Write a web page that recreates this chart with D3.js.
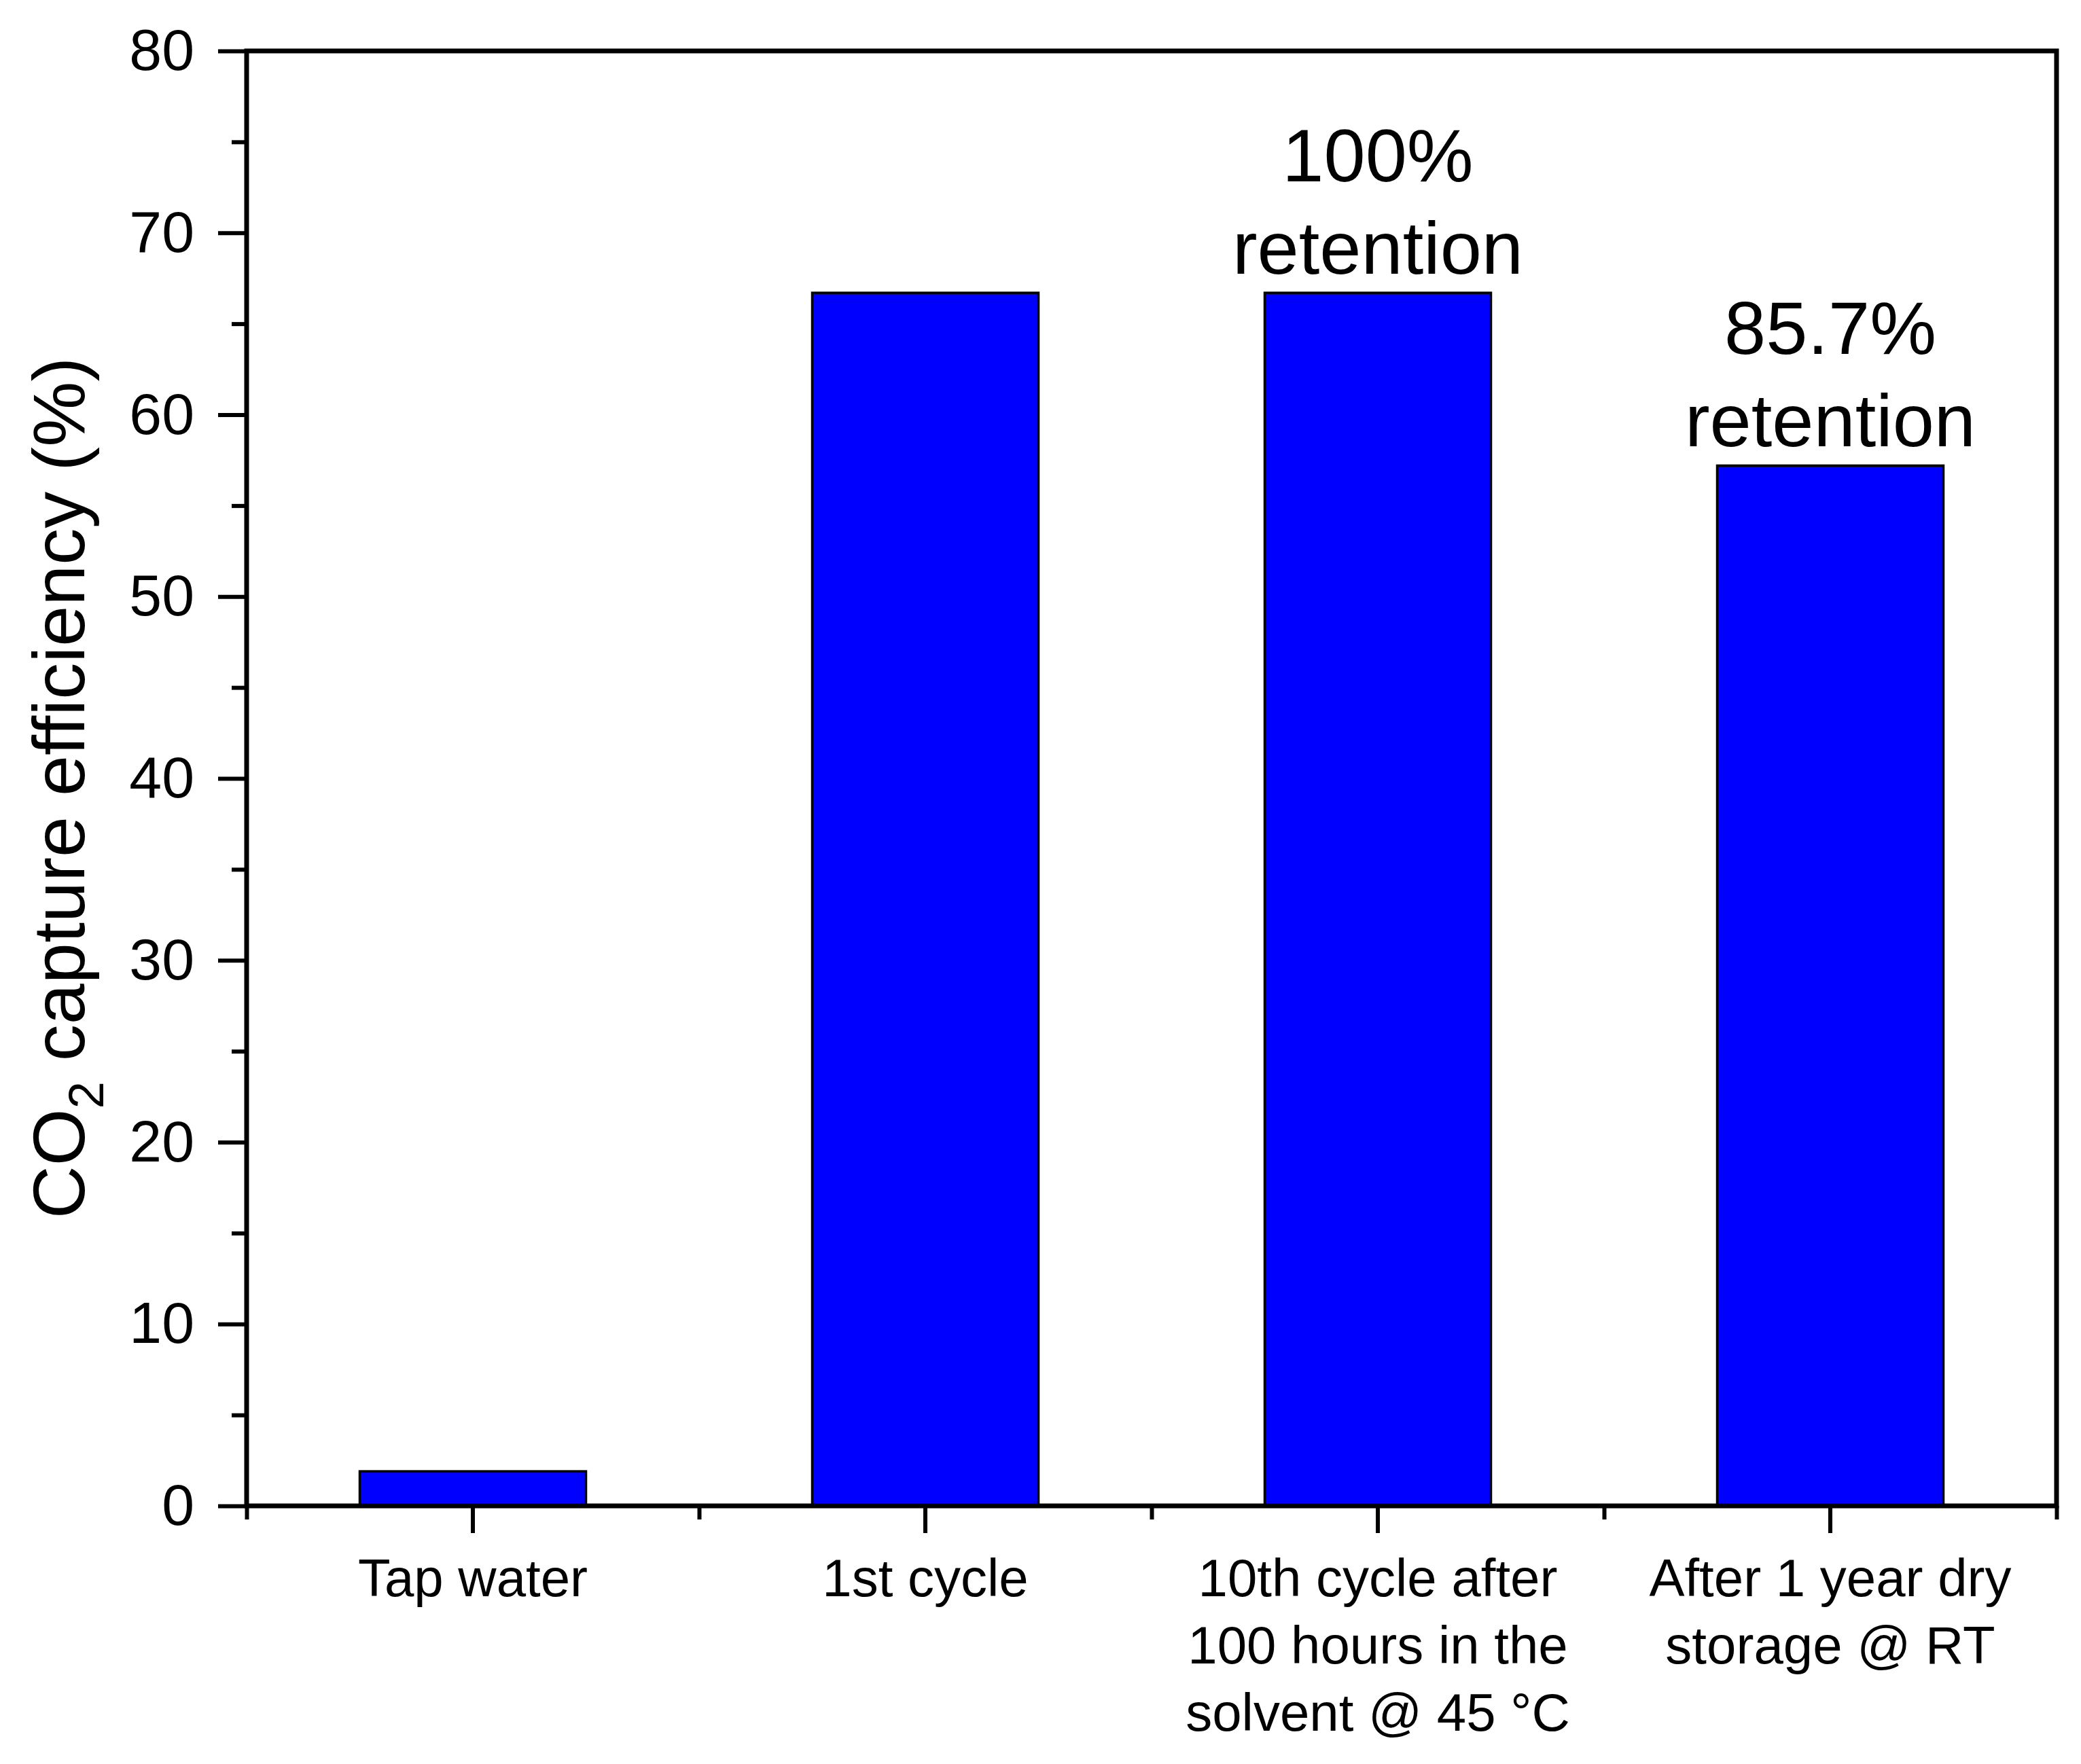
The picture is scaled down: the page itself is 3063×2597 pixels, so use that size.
<!DOCTYPE html>
<html>
<head>
<meta charset="utf-8">
<script src="https://cdn.jsdelivr.net/npm/d3@7"></script>
<style>
  body { margin: 0; background: #fff; }
  text { font-family: "Liberation Sans", Arial, sans-serif; fill: #000; }
</style>
</head>
<body>
<svg id="chart"></svg>
<script>
// data
var categories = [
  ["Tap water"],
  ["1st cycle"],
  ["10th cycle after", "100 hours in the", "solvent @ 45 °C"],
  ["After 1 year dry", "storage @ RT"]
]
var values = [1.9, 66.7, 66.7, 57.2]
var notes = [[], [], ["100%", "retention"], ["85.7%", "retention"]]
var yTicks = [0, 10, 20, 30, 40, 50, 60, 70, 80]
var yMinor = [5, 15, 25, 35, 45, 55, 65, 75]

var W = 3063, H = 2597
var plotLeft = 363, plotRight = 3027, plotTop = 75, plotBottom = 2217
var axisW = 7

var svg = d3.select('#chart')
  .attr('width', W)
  .attr('height', H)

svg.append('rect').attr('width', W).attr('height', H).attr('fill', '#fff')

var x = d3.scaleBand()
  .domain(d3.range(categories.length))
  .range([plotLeft, plotRight])
  .paddingInner(0.5)
  .paddingOuter(0.25)

var y = d3.scaleLinear().domain([0, 80]).range([plotBottom, plotTop])

// bars
svg.selectAll('.bar').data(values).enter()
  .append('rect')
  .attr('class', 'bar')
  .attr('x', function(d, i) { return x(i) })
  .attr('y', function(d) { return y(d) })
  .attr('width', x.bandwidth())
  .attr('height', function(d) { return y(0) - y(d) })
  .attr('fill', '#0000ff')
  .attr('stroke', '#000')
  .attr('stroke-width', 3.5)

// retention notes above bars
notes.forEach(function(lines, i) {
  lines.forEach(function(t, j) {
    svg.append('text')
      .attr('x', x(i) + x.bandwidth() / 2)
      .attr('y', y(values[i]) - 28 - (lines.length - 1 - j) * 136)
      .attr('text-anchor', 'middle')
      .attr('font-size', 110)
      .text(t)
  })
})

// y axis: major + minor ticks
var gy = svg.append('g').attr('transform', `translate(${plotLeft},0)`)
  .call(d3.axisLeft(y).tickValues(yTicks).tickSize(42).tickPadding(35).tickFormat(d3.format('d')))
gy.select('.domain').remove()
gy.selectAll('.tick line').attr('stroke', '#000').attr('stroke-width', 6)
gy.selectAll('.tick text').attr('font-size', 86).attr('font-family', '"Liberation Sans", Arial, sans-serif')

var gyMinor = svg.append('g').attr('transform', `translate(${plotLeft},0)`)
  .call(d3.axisLeft(y).tickValues(yMinor).tickSize(22).tickFormat(''))
gyMinor.select('.domain').remove()
gyMinor.selectAll('.tick line').attr('stroke', '#000').attr('stroke-width', 6)

// x axis: major ticks at categories, minor at band edges
var xMajor = svg.append('g').attr('transform', `translate(0,${plotBottom})`)
  .call(d3.axisBottom(x).tickSize(40).tickFormat(''))
xMajor.select('.domain').remove()
xMajor.selectAll('.tick line').attr('stroke', '#000').attr('stroke-width', 6)

var xEdge = d3.scaleLinear().domain([0, categories.length]).range([plotLeft, plotRight])
var xMinor = svg.append('g').attr('transform', `translate(0,${plotBottom})`)
  .call(d3.axisBottom(xEdge).tickValues(d3.range(categories.length + 1)).tickSize(20).tickFormat(''))
xMinor.select('.domain').remove()
xMinor.selectAll('.tick line').attr('stroke', '#000').attr('stroke-width', 6)

// category labels, multi-line
categories.forEach(function(lines, i) {
  lines.forEach(function(t, j) {
    svg.append('text')
      .attr('x', x(i) + x.bandwidth() / 2)
      .attr('y', 2350 + j * 99)
      .attr('text-anchor', 'middle')
      .attr('font-size', 78)
      .text(t)
  })
})

// frame
svg.append('rect')
  .attr('x', plotLeft).attr('y', plotTop)
  .attr('width', plotRight - plotLeft).attr('height', plotBottom - plotTop)
  .attr('fill', 'none')
  .attr('stroke', '#000')
  .attr('stroke-width', axisW)

// y title
var title = svg.append('text')
  .attr('transform', `translate(124,${(plotTop + plotBottom) / 2 + 14}) rotate(-90)`)
  .attr('text-anchor', 'middle')
  .attr('font-size', 108)
title.append('tspan').text('CO')
title.append('tspan').text('2').attr('font-size', 72).attr('dy', 28)
title.append('tspan').text(' capture efficiency (%)').attr('dy', -28)
</script>
</body>
</html>
